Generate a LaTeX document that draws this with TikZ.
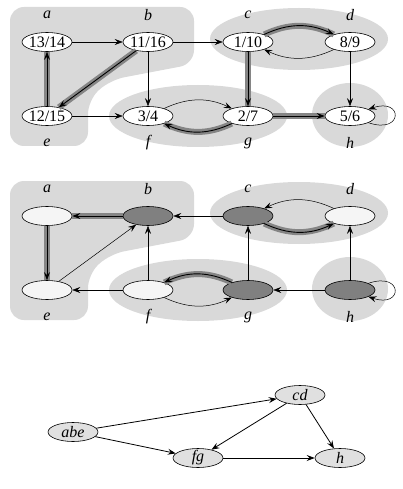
\documentclass[tikz,border=0pt]{standalone}
\usepackage{fontspec}
\setmainfont{Liberation Serif}
\usetikzlibrary{arrows.meta,shapes.geometric}
\begin{document}
\begin{tikzpicture}[x=1pt,y=-1pt,
  vert/.style={ellipse,draw,line width=0.6pt,minimum width=50pt,minimum height=19pt,inner sep=-2pt,font=\fontsize{16}{16}\selectfont},
  vw/.style={vert,fill=white},
  vl/.style={vert,fill=black!4},
  vd/.style={vert,fill=black!50},
  vc/.style={vert,fill=black!12,font=\fontsize{16}{16}\selectfont\itshape},
  lab/.style={font=\fontsize{16}{16}\selectfont\itshape,inner sep=0pt},
  region/.style={fill=black!15},
  ed/.style={-{Stealth[length=8pt,width=6pt,inset=3pt]},line width=0.5pt},
  tree/.style={ed,line width=0.9pt,preaction={draw=black!48,line width=6pt,-}},
  ced/.style={ed,line width=0.8pt},
]
\useasboundingbox (0,0) rectangle (403,489);

% ---------- top graph: regions ----------
\fill[region,rounded corners=14] (10,7) -- (194,7) -- (194,64) -- (110,80) -- (88,100) -- (88,146) -- (10,146) -- cycle;
\fill[region] (198,116) ellipse [x radius=89,y radius=31];
\fill[region] (299,39) ellipse [x radius=89,y radius=31];
\fill[region] (350,115) ellipse [x radius=38,y radius=32];

% nodes
\node[vw] (a) at (47,42) {13/14};
\node[vw] (b) at (148,42) {11/16};
\node[vw] (c) at (248,42) {1/10};
\node[vw] (d) at (350,42) {8/9};
\node[vw] (e) at (47,116) {12/15};
\node[vw] (f) at (148,116) {3/4};
\node[vw] (g) at (248,116) {2/7};
\node[vw] (h) at (350,116) {5/6};
\node[lab] (la) at (47,15) {a};
\node[lab] (lb) at (148,15) {b};
\node[lab] (lc) at (248,15) {c};
\node[lab] (ld) at (350,15) {d};
\node[lab] (le) at (47,143) {e};
\node[lab] (lf) at (148,143) {f};
\node[lab] (lg) at (248,143) {g};
\node[lab] (lh) at (350,143) {h};

% edges
\draw[ed] (a) -- (b);
\draw[ed] (b) -- (c);
\draw[ed] (b) -- (f);
\draw[tree] (b) -- (e);
\draw[tree] (e) -- (a);
\draw[ed] (e) -- (f);
\draw[tree] (c) to[bend left=25] (d);
\draw[ed] (d) to[bend left=25] (c);
\draw[tree] (c) -- (g);
\draw[ed] (f) to[bend left=25] (g);
\draw[tree] (g) to[bend left=25] (f);
\draw[tree] (g) -- (h);
\draw[ed] (d) -- (h);
\draw[ed] (h.-20) .. controls +(35,12) and +(35,-12) .. (h.20);

% ---------- middle graph: regions ----------
\begin{scope}[yshift=-174pt]
\fill[region,rounded corners=14] (10,7) -- (194,7) -- (194,64) -- (110,80) -- (88,100) -- (88,146) -- (10,146) -- cycle;
\fill[region] (198,116) ellipse [x radius=89,y radius=31];
\fill[region] (299,39) ellipse [x radius=89,y radius=31];
\fill[region] (350,115) ellipse [x radius=38,y radius=32];
\end{scope}

\node[vl] (a2) at (47,216) {};
\node[vd] (b2) at (148,216) {};
\node[vd] (c2) at (248,216) {};
\node[vl] (d2) at (350,216) {};
\node[vl] (e2) at (47,290) {};
\node[vl] (f2) at (148,290) {};
\node[vd] (g2) at (248,290) {};
\node[vd] (h2) at (350,290) {};
\node[lab] (la2) at (47,189) {a};
\node[lab] (lb2) at (148,189) {b};
\node[lab] (lc2) at (248,189) {c};
\node[lab] (ld2) at (350,189) {d};
\node[lab] (le2) at (47,317) {e};
\node[lab] (lf2) at (148,317) {f};
\node[lab] (lg2) at (248,317) {g};
\node[lab] (lh2) at (350,317) {h};

\draw[tree] (b2) -- (a2);
\draw[tree] (a2) -- (e2);
\draw[ed] (e2) -- (b2);
\draw[ed] (f2) -- (b2);
\draw[ed] (f2) -- (e2);
\draw[ed] (c2) -- (b2);
\draw[ed] (d2) to[bend right=25] (c2);
\draw[tree] (c2) to[bend right=25] (d2);
\draw[tree] (g2) to[bend right=25] (f2);
\draw[ed] (f2) to[bend right=25] (g2);
\draw[ed] (g2) -- (c2);
\draw[ed] (h2) -- (d2);
\draw[ed] (h2) -- (g2);
\draw[ed] (h2.20) .. controls +(35,-12) and +(35,12) .. (h2.-20);

% ---------- bottom graph ----------
\node[vc] (abe) at (73,432) {abe};
\node[vc] (cd) at (300,395) {cd};
\node[vc] (fg) at (198,458) {fg};
\node[vc] (hh) at (340,458) {h};
\draw[ced] (abe) -- (cd);
\draw[ced] (abe) -- (fg);
\draw[ced] (cd) -- (fg);
\draw[ced] (cd) -- (hh);
\draw[ced] (fg) -- (hh);
\end{tikzpicture}
\end{document}
